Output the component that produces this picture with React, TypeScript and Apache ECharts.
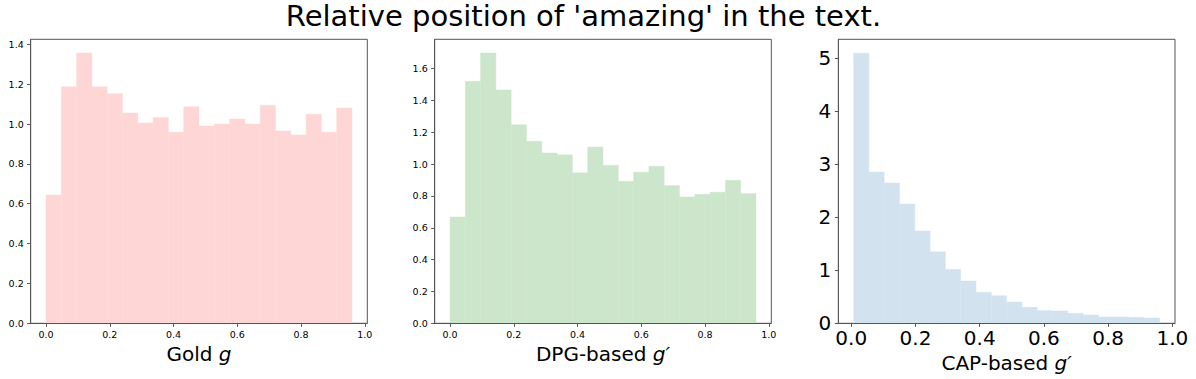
import React, { useEffect, useRef } from "react";
import * as echarts from "echarts";

const TITLE = "Relative position of 'amazing' in the text.";

const goldEdges = [0, 0.048, 0.096, 0.144, 0.192, 0.24, 0.288, 0.336, 0.384, 0.432, 0.48, 0.528, 0.576, 0.624, 0.672, 0.72, 0.768, 0.816, 0.864, 0.912, 0.96];
const goldHeights = [0.644, 1.187, 1.356, 1.187, 1.152, 1.055, 1.005, 1.032, 0.958, 1.087, 0.99, 1.0, 1.025, 1.0, 1.094, 0.965, 0.945, 1.049, 0.958, 1.08];

const dpgEdges = [0, 0.048, 0.096, 0.144, 0.192, 0.24, 0.288, 0.336, 0.384, 0.432, 0.48, 0.528, 0.576, 0.624, 0.672, 0.72, 0.768, 0.816, 0.864, 0.912, 0.96];
const dpgHeights = [0.668, 1.52, 1.698, 1.466, 1.248, 1.143, 1.07, 1.058, 0.945, 1.108, 0.993, 0.892, 0.949, 0.986, 0.865, 0.794, 0.81, 0.823, 0.898, 0.815];

const capEdges = [0.0073, 0.055, 0.1026, 0.1503, 0.1979, 0.2456, 0.2933, 0.3409, 0.3886, 0.4362, 0.4839, 0.5316, 0.5792, 0.6269, 0.6745, 0.7222, 0.7699, 0.8175, 0.8652, 0.9128, 0.9605];
const capHeights = [5.094, 2.852, 2.644, 2.249, 1.74, 1.35, 1.018, 0.798, 0.584, 0.521, 0.402, 0.302, 0.239, 0.232, 0.188, 0.157, 0.119, 0.119, 0.113, 0.1];

const xTicks = [0, 0.2, 0.4, 0.6, 0.8, 1.0];
const goldYTicks = [0, 0.2, 0.4, 0.6, 0.8, 1.0, 1.2, 1.4];
const dpgYTicks = [0, 0.2, 0.4, 0.6, 0.8, 1.0, 1.2, 1.4, 1.6];
const capYTicks = [0, 1, 2, 3, 4, 5];

const xLabels = ["Gold {i|g}", "DPG-based {i|g\u2032}", "CAP-based {i|g\u2032}"];

const FONT = "DejaVu Sans";
const SPINE = "#555";

function histData(edges: number[], heights: number[]) {
  return heights.map((h, i) => [edges[i], edges[i + 1], h]);
}

export default function App() {
  const ref = useRef<HTMLDivElement>(null);
  useEffect(() => {
    document.body.style.margin = "0";
    if (!ref.current) return;
    const chart = echarts.init(ref.current, undefined, { renderer: "svg" });

    const panels = [
      { edges: goldEdges, heights: goldHeights, color: "#FFD6D6", left: 30.7, width: 336.6, xmin: -0.048, xmax: 1.008, ymax: 1.425, yTicks: goldYTicks, small: true, yDigits: 1 },
      { edges: dpgEdges, heights: dpgHeights, color: "#CCE6CC", left: 434.7, width: 336.6, xmin: -0.048, xmax: 1.008, ymax: 1.784, yTicks: dpgYTicks, small: true, yDigits: 1 },
      { edges: capEdges, heights: capHeights, color: "#D2E3EF", left: 838.3, width: 336.7, xmin: -0.0404, xmax: 1.0082, ymax: 5.355, yTicks: capYTicks, small: false, yDigits: 0 },
    ];

    const grid = panels.map((p) => ({
      left: p.left,
      top: 39.3,
      width: p.width,
      height: 284,
      show: true,
      backgroundColor: "transparent",
      borderColor: SPINE,
      borderWidth: 1,
    }));

    const xAxis = panels.map((p, i) => ({
      type: "value",
      gridIndex: i,
      min: p.xmin,
      max: p.xmax,
      z: 5,
      splitLine: { show: false },
      axisLine: { show: true, onZero: false, lineStyle: { color: SPINE, width: 1 } },
      axisTick: { show: true, length: 3.5, lineStyle: { color: SPINE }, customValues: xTicks },
      axisLabel: {
        customValues: xTicks,
        formatter: (v: number) => v.toFixed(1),
        fontFamily: FONT,
        fontSize: p.small ? 9.5 : 20,
        color: "#000",
        margin: p.small ? 6 : 5,
      },
      name: xLabels[i],
      nameLocation: "middle",
      nameGap: p.small ? 18 : 26,
      nameTextStyle: {
        fontFamily: FONT,
        fontSize: 20,
        color: "#000",
        rich: { i: { fontFamily: FONT, fontSize: 20, fontStyle: "italic", color: "#000" } },
      },
    }));

    const yAxis = panels.map((p, i) => ({
      type: "value",
      gridIndex: i,
      min: 0,
      max: p.ymax,
      z: 5,
      splitLine: { show: false },
      axisLine: { show: true, onZero: false, lineStyle: { color: SPINE, width: 1 } },
      axisTick: { show: true, length: 3.5, lineStyle: { color: SPINE }, customValues: p.yTicks },
      axisLabel: {
        customValues: p.yTicks,
        formatter: (v: number) => v.toFixed(p.yDigits),
        fontFamily: FONT,
        fontSize: p.small ? 9.5 : 20,
        color: "#000",
        margin: 7,
      },
    }));

    const series = panels.map((p, i) => ({
      type: "custom",
      xAxisIndex: i,
      yAxisIndex: i,
      clip: true,
      data: histData(p.edges, p.heights),
      encode: { x: [0, 1], y: 2 },
      renderItem: (params: any, api: any) => {
        const a = api.coord([api.value(0), api.value(2)]);
        const b = api.coord([api.value(1), 0]);
        return {
          type: "rect",
          shape: { x: a[0], y: a[1], width: b[0] - a[0], height: b[1] - a[1] },
          style: { fill: p.color, stroke: p.color, lineWidth: 0.4 },
        };
      },
    }));

    chart.setOption({
      animation: false,
      backgroundColor: "#fff",
      grid,
      xAxis,
      yAxis,
      series,
      graphic: [
        {
          type: "text",
          x: 583.5,
          y: 1,
          style: {
            text: TITLE,
            fontFamily: FONT,
            fontSize: 29,
            fill: "#000",
            textAlign: "center",
            textVerticalAlign: "top",
          },
        },
      ],
    });
    return () => chart.dispose();
  }, []);
  return <div ref={ref} style={{ width: 1196, height: 379 }} />;
}
